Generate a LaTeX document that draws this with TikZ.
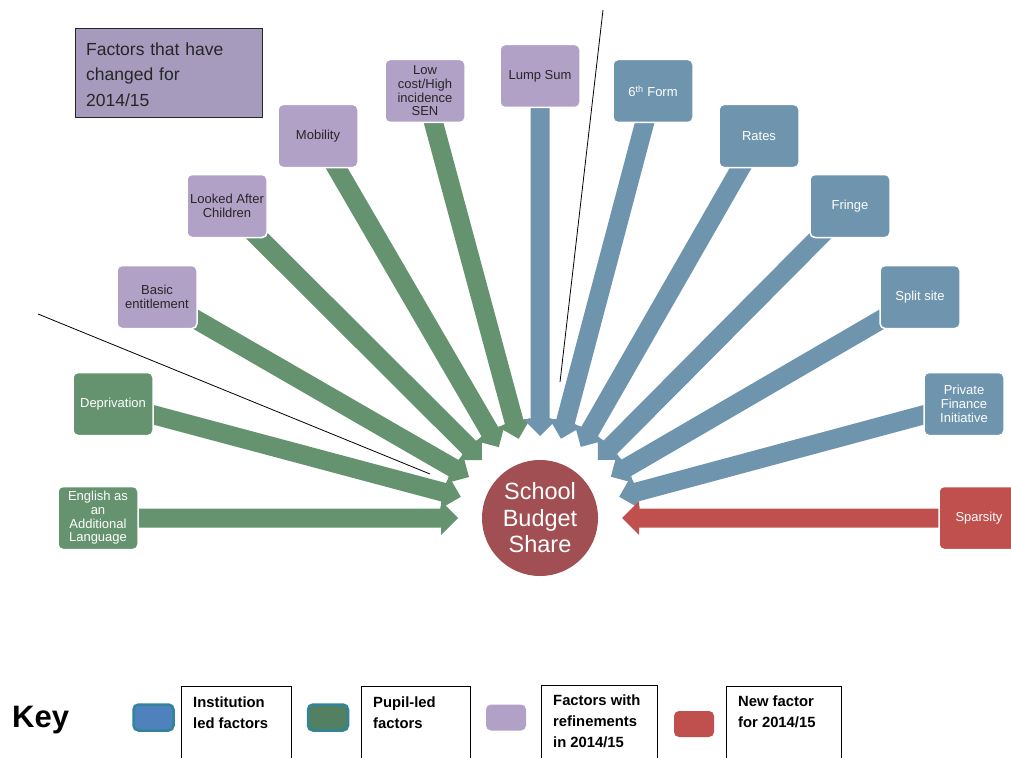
\documentclass[tikz,border=0pt]{standalone}
\usepackage{fontspec}
\setmainfont{Liberation Sans}
\usetikzlibrary{calc,backgrounds}
\definecolor{grn}{HTML}{65926F}
\definecolor{blu}{HTML}{6F95AE}
\definecolor{pur}{HTML}{B2A1C7}
\definecolor{rd}{HTML}{C0504D}
\definecolor{budget}{HTML}{A14F52}
\definecolor{topbox}{HTML}{A69BBD}
\definecolor{darktxt}{HTML}{262626}
\definecolor{keyblue}{HTML}{4F81BD}
\definecolor{keygrn}{HTML}{528060}
\definecolor{keyteal}{HTML}{31849B}
\newcommand{\blockarr}[2]{%
  \coordinate (T) at ($(c)!82pt!(#1)$);
  \coordinate (H) at ($(T)!17pt!(#1)$);
  \fill[#2] ($(#1)!9.5pt!90:(T)$) -- ($(H)!9.5pt!-90:(#1)$) -- ($(H)!17pt!-90:(#1)$) -- (T)
     -- ($(H)!17pt!90:(#1)$) -- ($(H)!9.5pt!90:(#1)$) -- ($(#1)!9.5pt!-90:(T)$) -- cycle;
}
\tikzset{
  factor/.style={rounded corners=5pt, minimum width=80pt, minimum height=63pt, inner sep=1pt,
     align=center, draw=white, line width=1.5pt, font=\fontsize{13}{13.7}\selectfont},
  grnbox/.style={factor, fill=grn, text=white},
  blubox/.style={factor, fill=blu, text=white},
  purbox/.style={factor, fill=pur, text=darktxt},
  redbox/.style={factor, fill=rd, text=white},
  keysq/.style={rounded corners=5pt, minimum width=40pt, minimum height=26pt, inner sep=0pt},
  keyframe/.style={draw=black, line width=0.9pt},
  keytext/.style={anchor=north west, inner sep=0pt, align=left, text=black,
     font=\bfseries\fontsize{14.8}{21}\selectfont},
  guide/.style={draw=black, line width=0.8pt}
}
\begin{document}
\begin{tikzpicture}[x=1pt,y=-1pt]
\useasboundingbox (0,0) rectangle (1011,757);

% centre
\node[circle, fill=budget, minimum size=116pt, inner sep=0pt, text=white, align=center,
  font=\fontsize{23.5}{26.5}\selectfont] (c) at (540,518) {School\\Budget\\Share};

% factor boxes
\node[grnbox] (eal) at (98,518) {English as\\an\\Additional\\Language};
\node[grnbox] (dep) at (113,404) {Deprivation};
\node[purbox] (basic) at (157,297) {Basic\\entitlement};
\node[purbox] (lac) at (227,206) {Looked After\\Children};
\node[purbox] (mob) at (318,136) {Mobility};
\node[purbox] (sen) at (425,91) {Low\\cost/High\\incidence\\SEN};
\node[purbox] (lump) at (540,76) {Lump Sum};
\node[blubox] (sixth) at (653,91) {6\textsuperscript{th} Form};
\node[blubox] (rates) at (759,136) {Rates};
\node[blubox] (fringe) at (850,206) {Fringe};
\node[blubox] (split) at (920,297) {Split site};
\node[blubox] (pfi) at (964,404) {Private\\Finance\\Initiative};
\node[redbox] (spars) at (979,518) {Sparsity};

% arrows
\begin{pgfonlayer}{background}
\fill[white] (0,0) rectangle (1011,757);
\blockarr{eal}{grn}
\blockarr{dep}{grn}
\blockarr{basic}{grn}
\blockarr{lac}{grn}
\blockarr{mob}{grn}
\blockarr{sen}{grn}
\blockarr{lump}{blu}
\blockarr{sixth}{blu}
\blockarr{rates}{blu}
\blockarr{fringe}{blu}
\blockarr{split}{blu}
\blockarr{pfi}{blu}
\blockarr{spars}{rd}
\end{pgfonlayer}

% guide lines
\coordinate (g1a) at (38,314);
\coordinate (g1b) at (430,474);
\coordinate (g2a) at (603,10);
\coordinate (g2b) at (560,382);
\draw[guide] (g1a) -- (g1b);
\draw[guide] (g2a) -- (g2b);

% top-left box
\node[draw=darktxt, line width=1.2pt, fill=topbox, minimum width=187pt, minimum height=89pt,
  anchor=north west, inner sep=0pt] (chg) at (75,28) {};
\node[anchor=north west, inner sep=0pt, text width=172pt, align=left, text=darktxt,
  font=\fontsize{17.5}{25.5}\selectfont] (chgtxt) at (86,42.5) {Factors that have\\changed for\\2014/15};

% key
\node[anchor=base west, inner sep=0pt, font=\bfseries\fontsize{31}{31}\selectfont] (key) at (12,727) {Key};

\node[keysq, fill=keyblue, draw=keyteal, line width=2.5pt] (k1) at (153.5,717.5) {};
\node[keysq, fill=keygrn, draw=keyteal, line width=2.5pt] (k2) at (328,717.5) {};
\node[keysq, fill=pur] (k3) at (506,717.5) {};
\node[keysq, fill=rd] (k4) at (694,724) {};

\node[keyframe, anchor=north west, minimum width=110pt, minimum height=80pt, inner sep=0pt] (f1) at (181,686) {};
\node[keyframe, anchor=north west, minimum width=109pt, minimum height=80pt, inner sep=0pt] (f2) at (361,686) {};
\node[keyframe, anchor=north west, minimum width=116pt, minimum height=80pt, inner sep=0pt] (f3) at (541,685) {};
\node[keyframe, anchor=north west, minimum width=115pt, minimum height=80pt, inner sep=0pt] (f4) at (726,686) {};

\node[keytext] (t1) at (193,696.5) {Institution\\led factors};
\node[keytext] (t2) at (373,696.5) {Pupil-led\\factors};
\node[keytext] (t3) at (553,694.5) {Factors with\\refinements\\in 2014/15};
\node[keytext] (t4) at (738,695.5) {New factor\\for 2014/15};
\end{tikzpicture}
\end{document}
